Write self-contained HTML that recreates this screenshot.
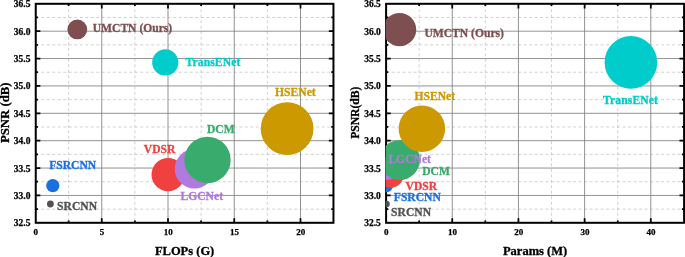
<!DOCTYPE html>
<html><head><meta charset="utf-8"><title>chart</title>
<style>html,body{margin:0;padding:0;background:#fff}svg{display:block}text{font-family:"Liberation Serif",serif;font-weight:bold}</style>
</head><body>
<svg style="will-change:transform" width="685" height="257" viewBox="0 0 685 257">
<rect x="0" y="0" width="685" height="257" fill="#fff"/>
<path d="M68.62 3.80V222.80M134.88 3.80V222.80M201.12 3.80V222.80M267.38 3.80V222.80M35.75 209.11H333.45M35.75 181.74H333.45M35.75 154.36H333.45M35.75 126.99H333.45M35.75 99.61H333.45M35.75 72.24H333.45M35.75 44.86H333.45M35.75 17.49H333.45" stroke="#b4b4b4" stroke-width="0.6" stroke-dasharray="3 2.5" fill="none"/>
<path d="M101.75 3.80V222.80M168.00 3.80V222.80M234.25 3.80V222.80M300.50 3.80V222.80M35.75 195.43H333.45M35.75 168.05H333.45M35.75 140.68H333.45M35.75 113.30H333.45M35.75 85.93H333.45M35.75 58.55H333.45M35.75 31.18H333.45" stroke="#7e7e7e" stroke-width="0.85" fill="none"/>
<rect x="35.75" y="3.80" width="297.70" height="219.00" fill="none" stroke="#000" stroke-width="2.0"/>
<path d="M101.75 222.80v-4.6M101.75 3.80v4.6M168.00 222.80v-4.6M168.00 3.80v4.6M234.25 222.80v-4.6M234.25 3.80v4.6M300.50 222.80v-4.6M300.50 3.80v4.6M68.62 222.80v-2.2M68.62 3.80v2.2M134.88 222.80v-2.2M134.88 3.80v2.2M201.12 222.80v-2.2M201.12 3.80v2.2M267.38 222.80v-2.2M267.38 3.80v2.2M35.75 195.43h4.6M333.45 195.43h-4.6M35.75 168.05h4.6M333.45 168.05h-4.6M35.75 140.68h4.6M333.45 140.68h-4.6M35.75 113.30h4.6M333.45 113.30h-4.6M35.75 85.93h4.6M333.45 85.93h-4.6M35.75 58.55h4.6M333.45 58.55h-4.6M35.75 31.18h4.6M333.45 31.18h-4.6M35.75 209.11h2.2M333.45 209.11h-2.2M35.75 181.74h2.2M333.45 181.74h-2.2M35.75 154.36h2.2M333.45 154.36h-2.2M35.75 126.99h2.2M333.45 126.99h-2.2M35.75 99.61h2.2M333.45 99.61h-2.2M35.75 72.24h2.2M333.45 72.24h-2.2M35.75 44.86h2.2M333.45 44.86h-2.2M35.75 17.49h2.2M333.45 17.49h-2.2" stroke="#000" stroke-width="1.75" fill="none"/>
<clipPath id="c1"><rect x="35.35" y="2.80" width="299.70" height="221.00"/></clipPath>
<g clip-path="url(#c1)">
<circle cx="50.4" cy="204.0" r="3.4" fill="#525252"/>
<circle cx="52.8" cy="185.6" r="6.65" fill="#1a70de"/>
<circle cx="168.1" cy="174.6" r="16.6" fill="#f04040"/>
<circle cx="194.5" cy="168.85" r="19.75" fill="#b07ade"/>
<circle cx="207.5" cy="159.95" r="23.2" fill="#39ab6c"/>
<circle cx="287.1" cy="128.6" r="26.4" fill="#cc9900"/>
<circle cx="165.3" cy="62.4" r="13.1" fill="#00cccc"/>
<circle cx="77.3" cy="29.4" r="9.9" fill="#7d4f50"/>
</g>
<text x="92.7" y="31.9" font-size="11.6" fill="#7d4f50" stroke="#7d4f50" stroke-width="0.3">UMCTN (Ours)</text>
<text x="185.5" y="66.2" font-size="11.6" fill="#00cccc" stroke="#00cccc" stroke-width="0.3" letter-spacing="0.12">TransENet</text>
<text x="275.1" y="96.2" font-size="11.6" fill="#cc9900" stroke="#cc9900" stroke-width="0.3">HSENet</text>
<text x="206.9" y="132.7" font-size="11.6" fill="#39ab6c" stroke="#39ab6c" stroke-width="0.3">DCM</text>
<text x="143.8" y="153.1" font-size="11.6" fill="#f04040" stroke="#f04040" stroke-width="0.3">VDSR</text>
<text x="180.5" y="200.4" font-size="11.6" fill="#b07ade" stroke="#b07ade" stroke-width="0.3">LGCNet</text>
<text x="49.2" y="169.1" font-size="11.6" fill="#1a70de" stroke="#1a70de" stroke-width="0.3">FSRCNN</text>
<text x="57.1" y="210.1" font-size="11.6" fill="#525252" stroke="#525252" stroke-width="0.3">SRCNN</text>
<text x="30.45" y="226.30" font-size="9.5" text-anchor="end" fill="#000" stroke="#000" stroke-width="0.25">32.5</text>
<text x="30.45" y="198.93" font-size="9.5" text-anchor="end" fill="#000" stroke="#000" stroke-width="0.25">33.0</text>
<text x="30.45" y="171.55" font-size="9.5" text-anchor="end" fill="#000" stroke="#000" stroke-width="0.25">33.5</text>
<text x="30.45" y="144.18" font-size="9.5" text-anchor="end" fill="#000" stroke="#000" stroke-width="0.25">34.0</text>
<text x="30.45" y="116.80" font-size="9.5" text-anchor="end" fill="#000" stroke="#000" stroke-width="0.25">34.5</text>
<text x="30.45" y="89.43" font-size="9.5" text-anchor="end" fill="#000" stroke="#000" stroke-width="0.25">35.0</text>
<text x="30.45" y="62.05" font-size="9.5" text-anchor="end" fill="#000" stroke="#000" stroke-width="0.25">35.5</text>
<text x="30.45" y="34.68" font-size="9.5" text-anchor="end" fill="#000" stroke="#000" stroke-width="0.25">36.0</text>
<text x="30.45" y="7.30" font-size="9.5" text-anchor="end" fill="#000" stroke="#000" stroke-width="0.25">36.5</text>
<text x="35.80" y="235.2" font-size="9.0" text-anchor="middle" fill="#000" stroke="#000" stroke-width="0.25">0</text>
<text x="102.05" y="235.2" font-size="9.0" text-anchor="middle" fill="#000" stroke="#000" stroke-width="0.25">5</text>
<text x="168.30" y="235.2" font-size="9.0" text-anchor="middle" fill="#000" stroke="#000" stroke-width="0.25">10</text>
<text x="234.55" y="235.2" font-size="9.0" text-anchor="middle" fill="#000" stroke="#000" stroke-width="0.25">15</text>
<text x="300.80" y="235.2" font-size="9.0" text-anchor="middle" fill="#000" stroke="#000" stroke-width="0.25">20</text>
<text x="184.60" y="254.7" font-size="12.5" text-anchor="middle" fill="#000" stroke="#000" stroke-width="0.3">FLOPs (G)</text>
<text transform="translate(8.9 112.80) rotate(-90)" font-size="12.75"  text-anchor="middle" fill="#000" stroke="#000" stroke-width="0.3">PSNR (dB)</text>
<path d="M419.14 3.80V222.80M485.34 3.80V222.80M551.52 3.80V222.80M617.72 3.80V222.80M386.10 209.11H684.10M386.10 181.74H684.10M386.10 154.36H684.10M386.10 126.99H684.10M386.10 99.61H684.10M386.10 72.24H684.10M386.10 44.86H684.10M386.10 17.49H684.10" stroke="#b4b4b4" stroke-width="0.6" stroke-dasharray="3 2.5" fill="none"/>
<path d="M452.24 3.80V222.80M518.43 3.80V222.80M584.62 3.80V222.80M650.81 3.80V222.80M386.10 195.43H684.10M386.10 168.05H684.10M386.10 140.68H684.10M386.10 113.30H684.10M386.10 85.93H684.10M386.10 58.55H684.10M386.10 31.18H684.10" stroke="#7e7e7e" stroke-width="0.85" fill="none"/>
<rect x="386.10" y="3.80" width="298.00" height="219.00" fill="none" stroke="#000" stroke-width="2.0"/>
<path d="M452.24 222.80v-4.6M452.24 3.80v4.6M518.43 222.80v-4.6M518.43 3.80v4.6M584.62 222.80v-4.6M584.62 3.80v4.6M650.81 222.80v-4.6M650.81 3.80v4.6M419.14 222.80v-2.2M419.14 3.80v2.2M485.34 222.80v-2.2M485.34 3.80v2.2M551.52 222.80v-2.2M551.52 3.80v2.2M617.72 222.80v-2.2M617.72 3.80v2.2M386.10 195.43h4.6M684.10 195.43h-4.6M386.10 168.05h4.6M684.10 168.05h-4.6M386.10 140.68h4.6M684.10 140.68h-4.6M386.10 113.30h4.6M684.10 113.30h-4.6M386.10 85.93h4.6M684.10 85.93h-4.6M386.10 58.55h4.6M684.10 58.55h-4.6M386.10 31.18h4.6M684.10 31.18h-4.6M386.10 209.11h2.2M684.10 209.11h-2.2M386.10 181.74h2.2M684.10 181.74h-2.2M386.10 154.36h2.2M684.10 154.36h-2.2M386.10 126.99h2.2M684.10 126.99h-2.2M386.10 99.61h2.2M684.10 99.61h-2.2M386.10 72.24h2.2M684.10 72.24h-2.2M386.10 44.86h2.2M684.10 44.86h-2.2M386.10 17.49h2.2M684.10 17.49h-2.2" stroke="#000" stroke-width="1.75" fill="none"/>
<clipPath id="c2"><rect x="385.70" y="2.80" width="300.00" height="221.00"/></clipPath>
<g clip-path="url(#c2)">
<circle cx="386.5" cy="204.0" r="3.3" fill="#525252"/>
<circle cx="386.4" cy="185.6" r="6.7" fill="#1a70de"/>
<circle cx="390.5" cy="174.2" r="13.5" fill="#f04040"/>
<circle cx="387.4" cy="168.5" r="11.2" fill="#b07ade"/>
<circle cx="399.9" cy="159.9" r="20.0" fill="#39ab6c"/>
<circle cx="421.9" cy="128.65" r="23.25" fill="#cc9900"/>
<circle cx="630.9" cy="62.4" r="26.3" fill="#00cccc"/>
<circle cx="399.6" cy="29.6" r="16.65" fill="#7d4f50"/>
</g>
<text x="424.4" y="36.9" font-size="11.6" fill="#7d4f50" stroke="#7d4f50" stroke-width="0.3">UMCTN (Ours)</text>
<text x="603.1" y="103.7" font-size="11.6" fill="#00cccc" stroke="#00cccc" stroke-width="0.3" letter-spacing="0.12">TransENet</text>
<text x="414.5" y="100.3" font-size="11.6" fill="#cc9900" stroke="#cc9900" stroke-width="0.3">HSENet</text>
<text x="388.4" y="162.8" font-size="11.6" fill="#b07ade" stroke="#b07ade" stroke-width="0.3">LGCNet</text>
<text x="422.2" y="174.9" font-size="11.6" fill="#39ab6c" stroke="#39ab6c" stroke-width="0.3">DCM</text>
<text x="405.6" y="189.9" font-size="11.6" fill="#f04040" stroke="#f04040" stroke-width="0.3">VDSR</text>
<text x="393.8" y="200.95" font-size="11.6" fill="#1a70de" stroke="#1a70de" stroke-width="0.3">FSRCNN</text>
<text x="391.1" y="215.9" font-size="11.6" fill="#525252" stroke="#525252" stroke-width="0.3">SRCNN</text>
<text x="380.80" y="226.30" font-size="9.5" text-anchor="end" fill="#000" stroke="#000" stroke-width="0.25">32.5</text>
<text x="380.80" y="198.93" font-size="9.5" text-anchor="end" fill="#000" stroke="#000" stroke-width="0.25">33.0</text>
<text x="380.80" y="171.55" font-size="9.5" text-anchor="end" fill="#000" stroke="#000" stroke-width="0.25">33.5</text>
<text x="380.80" y="144.18" font-size="9.5" text-anchor="end" fill="#000" stroke="#000" stroke-width="0.25">34.0</text>
<text x="380.80" y="116.80" font-size="9.5" text-anchor="end" fill="#000" stroke="#000" stroke-width="0.25">34.5</text>
<text x="380.80" y="89.43" font-size="9.5" text-anchor="end" fill="#000" stroke="#000" stroke-width="0.25">35.0</text>
<text x="380.80" y="62.05" font-size="9.5" text-anchor="end" fill="#000" stroke="#000" stroke-width="0.25">35.5</text>
<text x="380.80" y="34.68" font-size="9.5" text-anchor="end" fill="#000" stroke="#000" stroke-width="0.25">36.0</text>
<text x="380.80" y="7.30" font-size="9.5" text-anchor="end" fill="#000" stroke="#000" stroke-width="0.25">36.5</text>
<text x="386.35" y="235.2" font-size="9.0" text-anchor="middle" fill="#000" stroke="#000" stroke-width="0.25">0</text>
<text x="452.54" y="235.2" font-size="9.0" text-anchor="middle" fill="#000" stroke="#000" stroke-width="0.25">10</text>
<text x="518.73" y="235.2" font-size="9.0" text-anchor="middle" fill="#000" stroke="#000" stroke-width="0.25">20</text>
<text x="584.92" y="235.2" font-size="9.0" text-anchor="middle" fill="#000" stroke="#000" stroke-width="0.25">30</text>
<text x="651.11" y="235.2" font-size="9.0" text-anchor="middle" fill="#000" stroke="#000" stroke-width="0.25">40</text>
<text x="535.10" y="254.7" font-size="12.5" text-anchor="middle" fill="#000" stroke="#000" stroke-width="0.3">Params (M)</text>
<text transform="translate(359.29999999999995 112.70) rotate(-90)" font-size="12.7" textLength="52.3" lengthAdjust="spacingAndGlyphs" text-anchor="middle" fill="#000" stroke="#000" stroke-width="0.3">PSNR(dB)</text>
</svg></body></html>
